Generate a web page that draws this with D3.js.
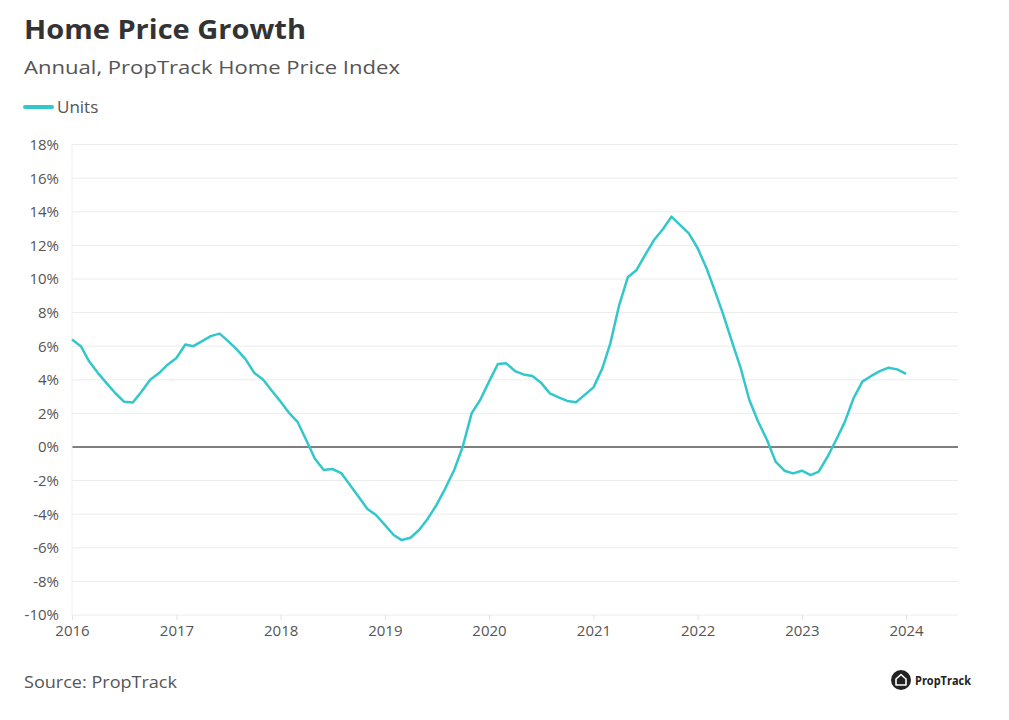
<!DOCTYPE html>
<html>
<head>
<meta charset="utf-8">
<script src="https://cdn.jsdelivr.net/npm/d3@7"></script>
<style>
  body { margin: 0; background: #fff; }
  text { font-family: "Open Sans", "Noto Sans", sans-serif; }
</style>
</head>
<body>
<div class="chart"></div>
<script>
// data: monthly annual growth, Jan 2016 .. Jan 2024
var startMonth = '2016-01';
var growth = [
  6.4, 6.0, 5.1, 4.4, 3.8, 3.2, 2.7, 2.65, 3.3, 4.0, 4.4, 4.9,   // 2016
  5.3, 6.1, 6.0, 6.3, 6.6, 6.75, 6.3, 5.8, 5.2, 4.4, 4.0, 3.35,  // 2017
  2.7, 2.0, 1.5, 0.4, -0.7, -1.37, -1.31, -1.55, -2.26, -2.96, -3.69, -4.05, // 2018
  -4.64, -5.24, -5.54, -5.4, -4.94, -4.25, -3.45, -2.46, -1.37, 0.02, 2.0, 2.8, // 2019
  3.89, 4.94, 4.98, 4.52, 4.32, 4.23, 3.83, 3.19, 2.96, 2.74, 2.66, 3.1, // 2020
  3.55, 4.68, 6.17, 8.45, 10.1, 10.54, 11.43, 12.32, 12.96, 13.71, 13.21, 12.72, // 2021
  11.83, 10.64, 9.35, 7.86, 6.27, 4.68, 2.8, 1.5, 0.42, -0.87, -1.41, -1.57, // 2022
  -1.41, -1.67, -1.47, -0.58, 0.42, 1.51, 2.9, 3.89, 4.23, 4.52, 4.72, 4.62, // 2023
  4.35 // 2024
];
var yTicks = [18, 16, 14, 12, 10, 8, 6, 4, 2, 0, -2, -4, -6, -8, -10];
var xTickYears = [2016, 2017, 2018, 2019, 2020, 2021, 2022, 2023, 2024];
var seriesName = 'Units';

var parseMonth = d3.timeParse('%Y-%m');
var t0 = parseMonth(startMonth);
var points = growth.map(function(v, i) {
  return { date: d3.timeMonth.offset(t0, i), value: v };
});

var settings = {
  w: 1009,
  h: 720,
  left: 72,
  right: 958,
  top: 144.6,
  bottom: 615,
  lineColor: '#33c7cc'
};

var svg = d3.select('.chart')
  .append('svg')
  .attr('width', settings.w)
  .attr('height', settings.h);

var x = d3.scaleTime()
  .domain([new Date(2016, 0, 1), new Date(2024, 6, 1)])
  .range([settings.left, settings.right]);

var y = d3.scaleLinear()
  .domain([-10, 18])
  .range([settings.bottom, settings.top]);

// titles
svg.append('text')
  .attr('x', 24).attr('y', 39)
  .attr('font-size', 26).attr('font-weight', 700)
  .attr('fill', '#333')
  .attr('textLength', 282).attr('lengthAdjust', 'spacingAndGlyphs')
  .text('Home Price Growth');

svg.append('text')
  .attr('x', 24).attr('y', 74)
  .attr('font-size', 19)
  .attr('fill', '#555')
  .attr('textLength', 376).attr('lengthAdjust', 'spacingAndGlyphs')
  .text('Annual, PropTrack Home Price Index');

// legend
svg.append('line')
  .attr('x1', 25).attr('x2', 52)
  .attr('y1', 107).attr('y2', 107)
  .attr('stroke', settings.lineColor)
  .attr('stroke-width', 4)
  .attr('stroke-linecap', 'round');

svg.append('text')
  .attr('x', 57).attr('y', 113)
  .attr('font-size', 17)
  .attr('fill', '#555')
  .text(seriesName);

// gridlines
svg.append('g')
  .selectAll('line')
  .data(yTicks)
  .enter()
  .append('line')
  .attr('x1', settings.left).attr('x2', settings.right)
  .attr('y1', function(d) { return y(d); })
  .attr('y2', function(d) { return y(d); })
  .attr('stroke', function(d) { return d === 0 ? '#555' : '#ececec'; })
  .attr('stroke-width', function(d) { return d === 0 ? 1.5 : 1; });

// left border line (faint)
svg.append('line')
  .attr('x1', settings.left).attr('x2', settings.left)
  .attr('y1', settings.top).attr('y2', settings.bottom)
  .attr('stroke', '#f0f0f0');

// y axis labels
var yAxis = svg.append('g')
  .attr('transform', 'translate(' + (settings.left - 13) + ',0)')
  .call(d3.axisLeft(y)
    .tickValues(yTicks)
    .tickSize(0)
    .tickFormat(function(d) { return d + '%'; }));
yAxis.select('.domain').remove();
yAxis.selectAll('text')
  .attr('x', 0)
  .attr('font-size', 15)
  .attr('fill', '#555')
  .style('font-family', '"Open Sans", "Noto Sans", sans-serif');

// x axis
var xAxis = svg.append('g')
  .attr('transform', 'translate(0,' + settings.bottom + ')')
  .call(d3.axisBottom(x)
    .tickValues(xTickYears.map(function(yr) { return new Date(yr, 0, 1); }))
    .tickSize(5)
    .tickPadding(5)
    .tickFormat(d3.timeFormat('%Y')));
xAxis.select('.domain').remove();
xAxis.selectAll('line').attr('stroke', '#e4e4e4');
xAxis.selectAll('text')
  .attr('font-size', 15)
  .attr('fill', '#555')
  .style('font-family', '"Open Sans", "Noto Sans", sans-serif');

// series line
var line = d3.line()
  .x(function(d) { return x(d.date); })
  .y(function(d) { return y(d.value); });

svg.append('path')
  .datum(points)
  .attr('d', line)
  .attr('fill', 'none')
  .attr('stroke', settings.lineColor)
  .attr('stroke-width', 2.5)
  .attr('stroke-linejoin', 'round');

// source
svg.append('text')
  .attr('x', 24).attr('y', 688)
  .attr('font-size', 17)
  .attr('fill', '#555')
  .attr('textLength', 153).attr('lengthAdjust', 'spacingAndGlyphs')
  .text('Source: PropTrack');

// logo
var logo = svg.append('g').attr('transform', 'translate(901,680)');
logo.append('circle').attr('r', 10).attr('fill', '#222');
logo.append('path')
  .attr('d', 'M-5,5 L-5,-1 L0,-5.5 L5,-1 L5,5 Z')
  .attr('fill', 'none')
  .attr('stroke', '#fff')
  .attr('stroke-width', 1.6)
  .attr('stroke-linejoin', 'round');
svg.append('text')
  .attr('x', 915).attr('y', 685)
  .attr('font-size', 13)
  .attr('font-weight', 700)
  .attr('fill', '#222')
  .attr('textLength', 56).attr('lengthAdjust', 'spacingAndGlyphs')
  .text('PropTrack');
</script>
</body>
</html>
